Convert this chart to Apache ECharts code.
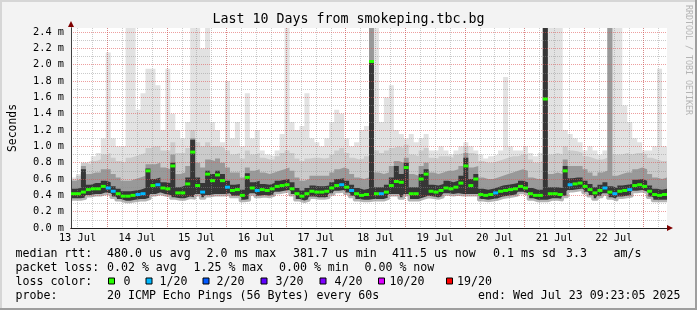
<!DOCTYPE html>
<html><head><meta charset="utf-8">
<script src="https://cdn.jsdelivr.net/npm/echarts@6/dist/echarts.min.js"></script>
<style>html,body{margin:0;padding:0;background:#f3f3f3;overflow:hidden}#c{width:697px;height:310px}</style>
</head><body><div id="c"></div>
<script>
// ---- time axis (hours since 13 Jul 00:00) ----
const startHour = 9.383;          // 13 Jul 09:23
const stepHours = 2;              // one sample column = 2 h
const xMinorHours = [12,18,24,30,36,42,48,54,60,66,72,78,84,90,96,102,108,114,120,126,132,138,144,150,156,162,168,174,180,186,192,198,204,210,216,222,228,234,240,246];
const xMajorHours = [24,48,72,96,120,144,168,192,216,240];
const xLabelHours = [12,36,60,84,108,132,156,180,204,228];
const xLabels = ['13 Jul','14 Jul','15 Jul','16 Jul','17 Jul','18 Jul','19 Jul','20 Jul','21 Jul','22 Jul'];
const yMinor = [0.1,0.3,0.5,0.7,0.9,1.1,1.3,1.5,1.7,1.9,2.1,2.3];
const yMajor = [0.2,0.4,0.6,0.8,1.0,1.2,1.4,1.6,1.8,2.0,2.2,2.4];
const yLabelVals = [0,0.2,0.4,0.6,0.8,1.0,1.2,1.4,1.6,1.8,2.0,2.2,2.4];
const yLabels = ['0.0 m','0.2 m','0.4 m','0.6 m','0.8 m','1.0 m','1.2 m','1.4 m','1.6 m','1.8 m','2.0 m','2.2 m','2.4 m'];

// ---- median rtt (ms) per column ----
const median = [
0.42,0.42,0.44,0.47,0.48,0.48,0.51,0.49,0.45,0.42,
0.39,0.39,0.40,0.41,0.42,0.70,0.52,0.53,0.49,0.48,
0.76,0.43,0.43,0.54,0.93,0.52,0.44,0.66,0.58,0.65,
0.58,0.50,0.46,0.47,0.40,0.62,0.49,0.46,0.47,0.46,
0.48,0.51,0.52,0.53,0.48,0.42,0.39,0.42,0.45,0.44,
0.44,0.45,0.49,0.52,0.53,0.50,0.46,0.42,0.40,0.41,
2.04,0.42,0.42,0.44,0.52,0.57,0.56,0.74,0.42,0.42,
0.60,0.66,0.45,0.44,0.46,0.49,0.48,0.50,0.55,0.76,
0.52,0.60,0.41,0.40,0.41,0.43,0.45,0.46,0.47,0.48,
0.51,0.49,0.42,0.40,0.40,1.58,0.42,0.42,0.41,0.70,
0.53,0.54,0.55,0.51,0.47,0.43,0.46,0.49,0.44,0.42,
0.45,0.46,0.47,0.52,0.53,0.51,0.45,0.41,0.40,0.41];
// loss level index per column (0 = 0, 1 = 1/20)
const loss = [
0,0,0,0,0,0,0,1,1,0, 0,0,0,1,1,0,0,1,0,0, 0,0,0,0,0,0,1,0,0,0,
0,1,0,0,0,0,0,1,0,0, 0,0,0,0,0,0,0,0,0,0, 0,0,0,0,1,0,1,0,0,0,
0,0,1,0,0,0,0,0,0,0, 0,0,0,0,0,0,0,0,0,0, 0,0,0,0,0,1,0,0,0,0,
0,0,0,0,0,0,0,0,0,0, 1,0,0,0,0,0,0,1,0,1, 0,0,1,0,0,0,0,0,0,0];
// ---- smoke envelope (ms) ----
const smokeLow = [
0.35,0.35,0.36,0.39,0.40,0.40,0.42,0.41,0.37,0.34,
0.32,0.32,0.33,0.34,0.34,0.36,0.40,0.42,0.40,0.39,
0.36,0.35,0.35,0.37,0.36,0.40,0.36,0.39,0.40,0.40,
0.40,0.41,0.38,0.38,0.33,0.34,0.41,0.38,0.39,0.38,
0.40,0.43,0.44,0.45,0.40,0.34,0.32,0.34,0.37,0.36,
0.36,0.37,0.41,0.44,0.45,0.42,0.38,0.34,0.33,0.33,
0.34,0.34,0.34,0.36,0.40,0.40,0.36,0.40,0.34,0.34,
0.36,0.38,0.37,0.36,0.38,0.41,0.40,0.41,0.40,0.40,
0.40,0.40,0.34,0.33,0.34,0.35,0.37,0.38,0.39,0.40,
0.43,0.41,0.35,0.33,0.33,0.33,0.35,0.35,0.34,0.38,
0.45,0.46,0.47,0.43,0.39,0.35,0.38,0.41,0.36,0.34,
0.37,0.38,0.39,0.44,0.45,0.43,0.37,0.33,0.33,0.33];
const smokeDark = [
0.48,0.49,0.72,0.53,0.55,0.55,0.58,0.56,0.51,0.48,
0.45,0.45,0.46,0.47,0.49,0.73,0.60,0.62,0.56,0.55,
0.80,0.50,0.52,0.62,1.08,0.62,0.55,0.70,0.66,0.70,
0.66,0.58,0.53,0.54,0.47,0.67,0.56,0.58,0.54,0.53,
0.55,0.58,0.59,0.60,0.56,0.49,0.46,0.49,0.52,0.51,
0.51,0.52,0.56,0.60,0.61,0.58,0.53,0.49,0.47,0.48,
2.04,0.50,0.50,0.53,0.62,0.76,0.66,0.80,0.50,0.50,
0.66,0.72,0.53,0.52,0.54,0.58,0.56,0.58,0.64,0.86,
0.60,0.66,0.48,0.47,0.48,0.50,0.52,0.53,0.54,0.55,
0.58,0.56,0.49,0.47,0.47,2.45,0.50,0.50,0.49,0.76,
0.61,0.62,0.62,0.58,0.54,0.50,0.53,0.56,0.51,0.49,
0.52,0.53,0.54,0.59,0.60,0.58,0.52,0.48,0.47,0.48];
const smokeMid = [
0.58,0.60,0.76,0.66,0.68,0.68,0.72,0.72,0.66,0.62,
0.58,0.58,0.60,0.62,0.64,0.78,0.78,0.80,0.74,0.72,
0.90,0.66,0.68,0.76,1.10,0.80,0.74,0.84,0.82,0.85,
0.80,0.74,0.68,0.68,0.62,0.74,0.70,0.72,0.68,0.66,
0.68,0.70,0.72,0.74,0.70,0.62,0.58,0.60,0.64,0.64,
0.64,0.64,0.68,0.72,0.74,0.72,0.66,0.62,0.60,0.62,
2.45,0.68,0.66,0.68,0.76,0.82,0.80,0.86,0.66,0.64,
0.76,0.80,0.68,0.66,0.68,0.70,0.70,0.72,0.76,0.92,
0.74,0.76,0.62,0.60,0.60,0.62,0.64,0.66,0.68,0.70,
0.72,0.70,0.62,0.60,0.60,2.45,0.66,0.68,0.66,0.84,
0.76,0.76,0.76,0.72,0.68,0.64,0.68,0.70,2.45,0.64,
0.66,0.68,0.68,0.72,0.74,0.72,0.66,0.62,0.60,0.62];
const smokeHigh = [
0.60,0.64,0.80,0.78,0.82,0.84,0.90,0.92,0.86,0.82,
0.80,0.86,0.88,0.90,0.92,0.98,1.00,1.00,0.95,0.95,
1.05,0.92,0.92,0.98,1.20,1.05,1.00,1.05,1.00,1.00,
0.98,0.95,0.90,0.92,0.85,0.95,0.90,0.92,0.86,0.84,
0.84,0.88,0.92,0.95,0.92,0.85,0.82,0.85,0.86,0.86,
0.85,0.86,0.90,0.95,0.98,0.92,0.86,0.84,0.85,0.88,
2.45,0.95,0.92,0.95,0.98,1.00,0.98,1.02,0.90,0.88,
0.95,0.98,0.86,0.85,0.88,0.88,0.86,0.90,0.92,1.00,
0.92,0.90,0.82,0.80,0.80,0.82,0.84,0.86,0.88,0.88,
0.90,0.90,0.84,0.80,0.82,2.45,0.90,0.92,0.90,1.00,
0.95,0.94,0.92,0.88,0.86,0.84,0.84,0.86,2.45,0.90,
0.90,0.92,0.90,0.92,0.92,0.90,0.86,0.84,0.82,0.82];
const smokeMax = [
0.62,0.66,0.80,0.82,0.88,0.92,1.10,2.15,1.10,1.00,
1.00,2.45,2.45,1.45,1.65,1.95,1.95,1.75,1.20,1.95,
1.40,1.20,1.10,1.30,2.45,2.45,2.20,2.45,1.30,1.20,
1.05,1.80,1.10,1.30,1.00,1.65,1.10,1.20,0.95,0.90,
0.88,0.95,1.15,2.45,1.30,1.20,1.25,1.65,1.10,1.05,
1.00,1.10,1.30,1.45,1.40,1.10,1.00,1.05,1.20,1.25,
2.45,2.45,1.30,1.60,1.75,1.20,1.15,1.10,1.15,1.05,
1.10,1.15,0.95,0.95,1.00,0.95,0.90,0.95,1.00,1.05,
1.00,0.95,0.90,0.85,0.88,0.90,0.95,1.85,1.00,0.95,
0.95,1.00,0.92,0.88,0.92,2.45,2.45,2.45,2.45,1.20,
1.15,1.10,1.05,0.95,1.00,0.95,0.90,0.95,2.45,2.45,
2.45,1.50,1.30,1.10,1.05,0.95,0.95,1.00,1.95,1.00];

// ---- legend ----
const lossLabels = ['0','1/20','2/20','3/20','4/20','10/20','19/20'];
const lossColors = ['#26ff00','#00b8ff','#0059ff','#5e00ff','#7e00ff','#dd00ff','#ff0000'];
const statRtt = ['480.0 us avg','2.0 ms max','381.7 us min','411.5 us now','0.1 ms sd','3.3','am/s'];
const statLoss = ['0.02 % avg','1.25 % max','0.00 % min','0.00 % now'];
const probeText = '20 ICMP Echo Pings (56 Bytes) every 60s';
const endText = 'end: Wed Jul 23 09:23:05 2025';
const titleText = 'Last 10 Days from smokeping.tbc.bg';

// ---- layout ----
const F = '"DejaVu Sans Mono", monospace';
const rttX = [107, 206.5, 293, 392, 493, 566, 613.5];
const lossX = [107, 193.5, 279, 364.5];
const boxX = [108, 145.5, 202.5, 260.5, 319.5, 378, 446];
const boxLabelX = [123.5, 159.5, 216.5, 275.5, 334.5, 389.5, 457];
const rowY = [254, 268, 281.5, 295.5];

const col = i => startHour + stepHours * i;
function stepped(arr) { const out = []; arr.forEach((v, i) => { out.push([col(i), v]); out.push([col(i + 1), v]); }); return out; }
function band(arr, color, line) {
  return { type: 'line', data: stepped(arr), symbol: 'none', silent: true, animation: false, z: 2,
    lineStyle: line || { width: 0, opacity: 0 }, areaStyle: { color: color, opacity: 1, origin: 'start' } };
}
const near = (arr, v) => arr.findIndex(a => Math.abs(a - v) < 1e-6);

const chart = echarts.init(document.getElementById('c'), null, { renderer: 'canvas', width: 697, height: 310 });

const graphic = [];
graphic.push({ type: 'rect', shape: { x: 0, y: 0, width: 697, height: 2 }, style: { fill: '#d6d6d6' }, silent: true });
graphic.push({ type: 'rect', shape: { x: 0, y: 0, width: 2, height: 310 }, style: { fill: '#d6d6d6' }, silent: true });
graphic.push({ type: 'rect', shape: { x: 695, y: 0, width: 2, height: 310 }, style: { fill: '#9e9e9e' }, silent: true });
graphic.push({ type: 'rect', shape: { x: 0, y: 308, width: 697, height: 2 }, style: { fill: '#9e9e9e' }, silent: true });
function txt(x, y, s, opts) {
  return Object.assign({ type: 'text', x: x, y: y, silent: true,
    style: Object.assign({ text: s, font: '11.6px ' + F, fill: '#000', align: 'left', verticalAlign: 'middle' }, (opts && opts.style) || {}) },
    (opts && opts.el) || {});
}
graphic.push(txt(348.5, 19.5, titleText, { style: { font: '13.3px ' + F, align: 'center' } }));
graphic.push(txt(688.5, 60, 'RRDTOOL / TOBI OETIKER', { style: { font: '8.3px ' + F, fill: '#b4b4b4', align: 'center' }, el: { rotation: -Math.PI / 2 } }));
graphic.push(txt(15.5, rowY[0], 'median rtt:'));
statRtt.forEach((s, i) => graphic.push(txt(rttX[i], rowY[0], s)));
graphic.push(txt(15.5, rowY[1], 'packet loss:'));
statLoss.forEach((s, i) => graphic.push(txt(lossX[i], rowY[1], s)));
graphic.push(txt(15.5, rowY[2], 'loss color:'));
lossLabels.forEach((s, i) => {
  graphic.push({ type: 'rect', silent: true, shape: { x: boxX[i] + 0.5, y: rowY[2] - 3.5, width: 6, height: 6 },
    style: { fill: lossColors[i], stroke: '#000', lineWidth: 1 } });
  graphic.push(txt(boxLabelX[i], rowY[2], s));
});
graphic.push(txt(15.5, rowY[3], 'probe:'));
graphic.push(txt(107, rowY[3], probeText));
graphic.push(txt(478, rowY[3], endText));

const dotMinor = { color: 'rgba(140,140,140,0.45)', width: 1, type: [1, 1] };
const dotMajor = { color: 'rgba(222,80,80,0.55)', width: 1, type: [1, 1] };
const axisFont = { fontFamily: F, fontSize: 10.3, color: '#000' };

chart.setOption({
  backgroundColor: '#f3f3f3',
  animation: false,
  grid: { left: 67, top: 28, width: 600, height: 200, backgroundColor: '#fff', show: true, borderWidth: 0 },
  xAxis: [
    { type: 'value', min: startHour, max: startHour + 240, position: 'bottom', z: 5,
      axisLine: { show: true, onZero: false, lineStyle: { color: '#800000', width: 1 }, symbol: ['none', 'triangle'], symbolSize: [6, 6], symbolOffset: [0, 3] },
      axisTick: { show: false, customValues: xMinorHours }, axisLabel: { show: false },
      splitLine: { show: true, lineStyle: dotMinor } },
    { type: 'value', min: startHour, max: startHour + 240, position: 'bottom', z: 6,
      axisLine: { show: true, onZero: false, lineStyle: { color: '#202020', width: 1 } },
      axisTick: { show: false, customValues: xMajorHours },
      axisLabel: { show: true, customValues: xLabelHours, margin: 5, ...axisFont,
        formatter: v => { const k = near(xLabelHours, v); return k >= 0 ? xLabels[k] : ''; } },
      splitLine: { show: true, lineStyle: dotMajor } }
  ],
  yAxis: [
    { type: 'value', min: 0, max: 2.45, position: 'left', z: 5,
      axisLine: { show: true, onZero: false, lineStyle: { color: '#800000', width: 1 }, symbol: ['none', 'triangle'], symbolSize: [6, 6], symbolOffset: [0, 4] },
      axisTick: { show: false, customValues: yMinor }, axisLabel: { show: false },
      splitLine: { show: true, lineStyle: dotMinor } },
    { type: 'value', min: 0, max: 2.45, position: 'left', z: 6,
      name: 'Seconds', nameLocation: 'middle', nameGap: 52, nameRotate: 90,
      nameTextStyle: { fontFamily: F, fontSize: 11.4, color: '#000' },
      axisLine: { show: true, onZero: false, lineStyle: { color: '#404040', width: 1 } },
      axisTick: { show: false, customValues: yMajor },
      axisLabel: { show: true, customValues: yLabelVals, margin: 7, ...axisFont,
        formatter: v => { const k = near(yLabelVals, v); return k >= 0 ? yLabels[k] : ''; } },
      splitLine: { show: true, lineStyle: dotMajor } }
  ],
  series: [
    band(smokeMax, '#e2e2e2'),
    band(smokeHigh, '#cbcbcb'),
    band(smokeMid, '#999999'),
    band(smokeDark, '#363636'),
    band(smokeLow, '#ffffff', { color: '#b4b4b4', width: 2.5 }),
    { type: 'scatter', silent: true, animation: false, z: 10, symbol: 'rect', symbolSize: [5, 3],
      data: median.map((v, i) => [col(i + 0.5), v]),
      itemStyle: { color: p => lossColors[loss[p.dataIndex]], opacity: 1 } }
  ],
  graphic: graphic
});
</script>
</body></html>
